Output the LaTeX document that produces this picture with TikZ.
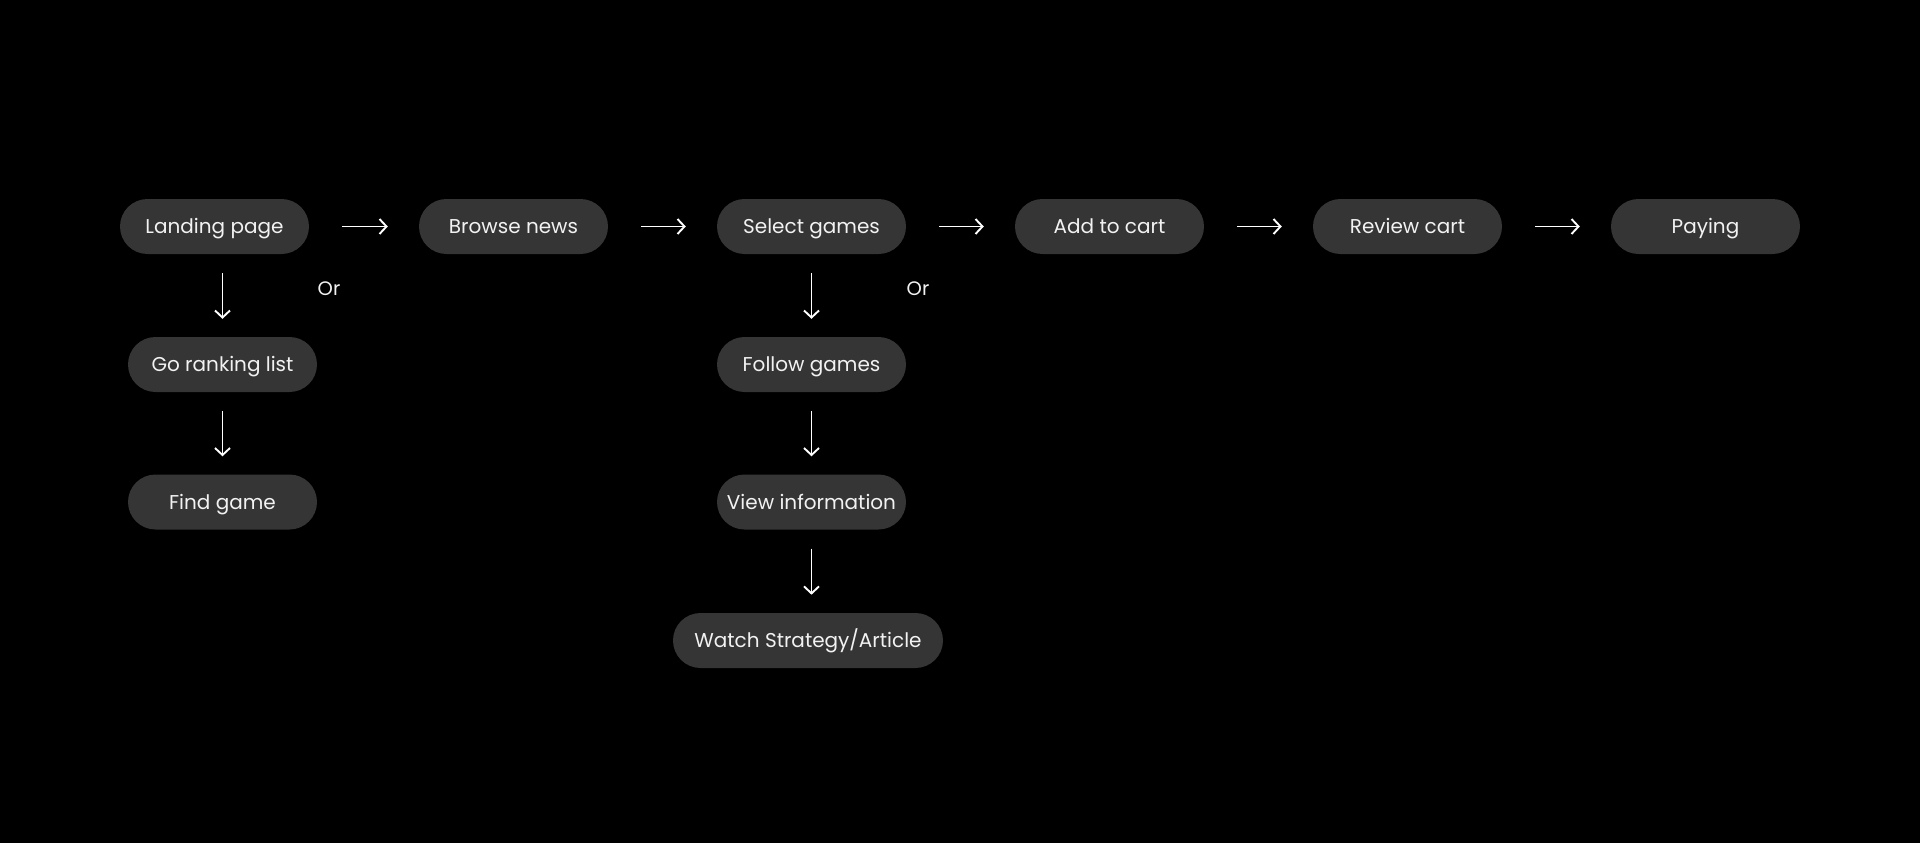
\documentclass[tikz,border=0pt]{standalone}
\usepackage{fontspec}
\setmainfont{Poppins}
\usetikzlibrary{arrows.meta,calc}
\definecolor{boxfill}{HTML}{353535}
\definecolor{txt}{HTML}{F2F2F2}
\tikzset{
  pill/.style={fill=boxfill, text=txt, rounded corners=27.5pt, minimum width=189pt, minimum height=55pt, inner sep=0pt, text height=14pt, text depth=0pt, font=\fontsize{20}{24}\selectfont},
  arr/.style={draw=white, line width=1.9pt, -{Straight Barb[length=7pt,width=15pt,line width=1.9pt]}},
  ortext/.style={text=txt, font=\fontsize{19.5}{22}\selectfont, inner sep=0pt}
}
\begin{document}
\begin{tikzpicture}[x=1pt,y=-1pt]
\fill[black] (0,0) rectangle (1920,843);
\useasboundingbox (0,0) rectangle (1920,843);
\node[pill] (L) at (214.5,226.5) {Landing page};
\node[pill] (B) at (513.5,226.5) {Browse news};
\node[pill] (S) at (811.5,226.5) {Select games};
\node[pill] (A) at (1109.5,226.5) {Add to cart};
\node[pill] (R) at (1407.5,226.5) {Review cart};
\node[pill] (P) at (1705.5,226.5) {Paying};
\node[pill] (G) at (222.5,364.5) {Go ranking list};
\node[pill] (F) at (222.5,502) {Find game};
\node[pill] (FG) at (811.5,364.5) {Follow games};
\node[pill] (V) at (811.5,502) {View information};
\node[pill, minimum width=270pt] (W) at (808,640.5) {Watch Strategy/Article};
\node[ortext] (or1) at (329,289) {Or};
\node[ortext] (or2) at (918,289) {Or};
\foreach \a/\b in {L/B,B/S,S/A,A/R,R/P}{
  \draw[arr] ($(\a.east)+(33pt,0pt)$) -- ($(\b.west)+(-31pt,0pt)$);
}
\draw[arr] ($(L.south -| G.north)+(0pt,-19pt)$) -- ($(G.north)+(0pt,18pt)$);
\draw[arr] ($(G.south)+(0pt,-19pt)$) -- ($(F.north)+(0pt,18pt)$);
\draw[arr] ($(S.south)+(0pt,-19pt)$) -- ($(FG.north)+(0pt,18pt)$);
\draw[arr] ($(FG.south)+(0pt,-19pt)$) -- ($(V.north)+(0pt,18pt)$);
\draw[arr] ($(V.south)+(0pt,-19pt)$) -- ($(V.south)+(0pt,-65pt)$);
\end{tikzpicture}
\end{document}
